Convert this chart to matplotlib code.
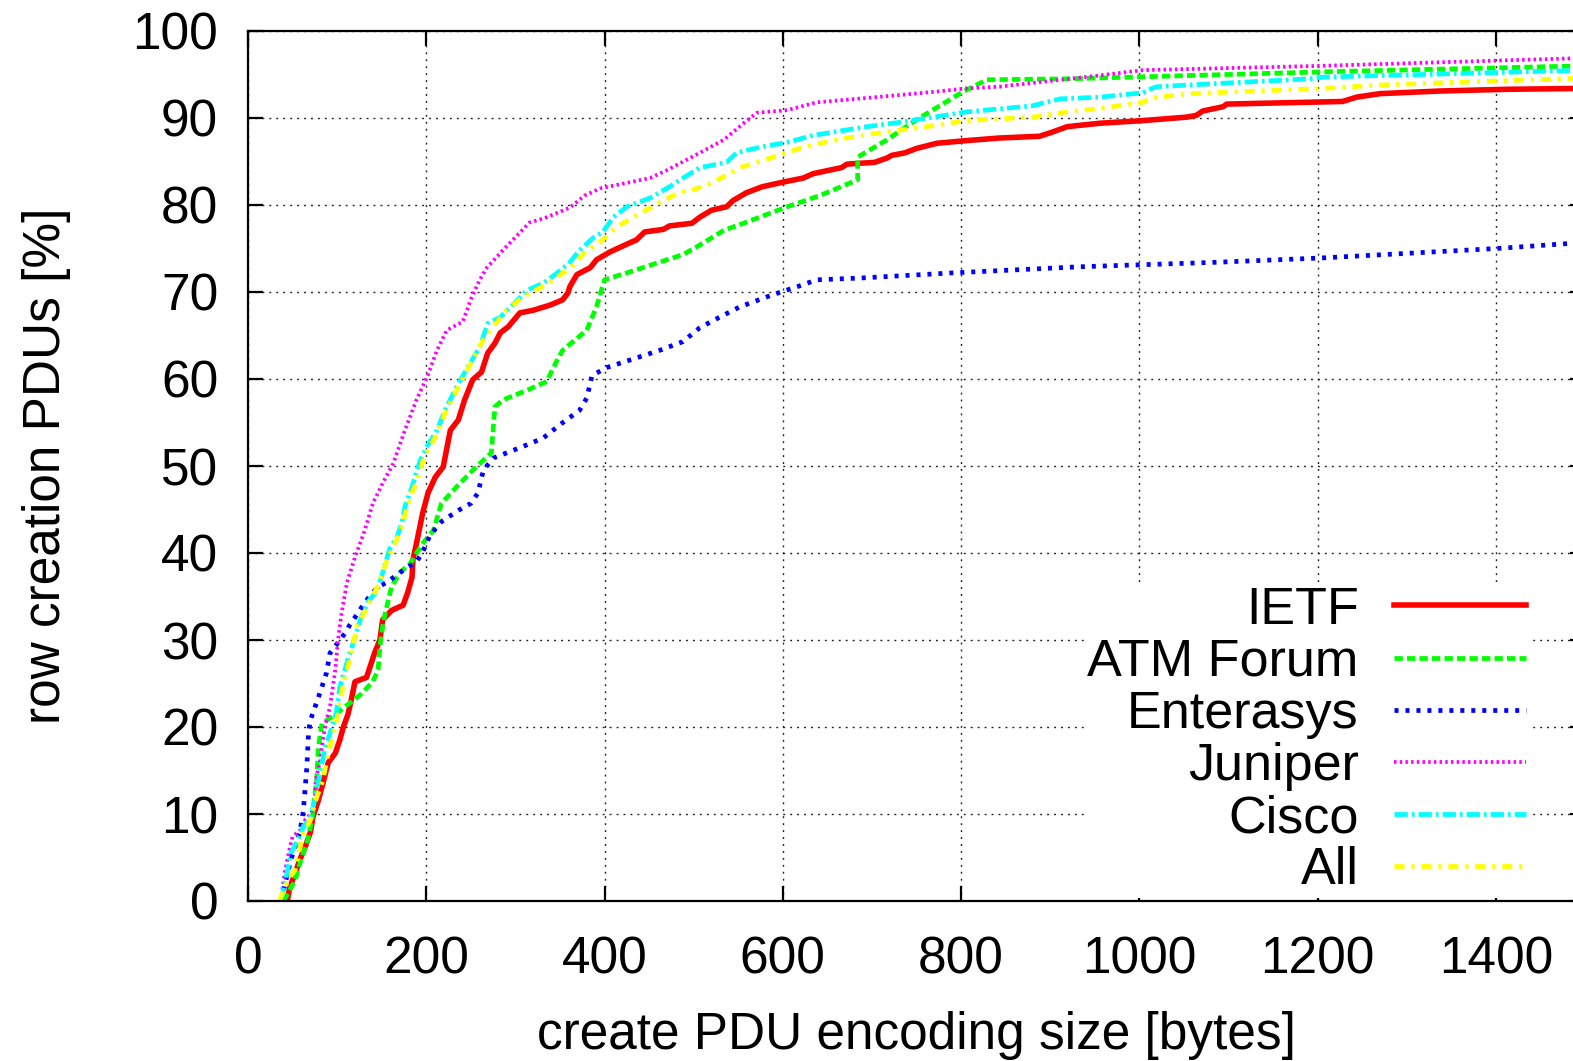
import matplotlib
matplotlib.use("Agg")
import matplotlib.pyplot as plt

# values (x = bytes, y = % of PDUs)
ietf_x = [44, 47, 53, 58, 64, 70, 73, 79, 84, 90, 98, 103, 107, 112, 115, 120, 133, 142, 148, 151,
          161, 174, 179, 184, 185, 189, 196, 202, 210, 219, 227, 236, 243, 252, 262, 269, 277, 283,
          292, 305, 320, 339, 353, 359, 361, 369, 384, 391, 406, 423, 436, 445, 466, 473, 498, 507,
          520, 537, 544, 559, 577, 599, 623, 634, 666, 672, 703, 717, 722, 737, 750, 773, 806, 843,
          888, 903, 919, 937, 956, 1004, 1053, 1064, 1071, 1094, 1098, 1228, 1244, 1270, 1337,
          1412, 1500]
ietf_y = [0, 1.6, 3.2, 4.7, 6.2, 7.9, 9.7, 11.6, 13.5, 15.9, 17.0, 18.5, 20.0, 21.4, 22.7, 25.2,
          25.7, 28.5, 30.0, 32.3, 33.4, 34.0, 35.4, 37.2, 39.2, 41.1, 44.6, 46.9, 48.7, 49.9, 54.1,
          55.3, 57.6, 59.9, 60.8, 63.0, 64.1, 65.3, 66.0, 67.6, 67.9, 68.5, 69.1, 69.9, 70.6, 72.0,
          72.8, 73.7, 74.6, 75.4, 76.0, 76.9, 77.2, 77.6, 77.9, 78.6, 79.4, 79.8, 80.5, 81.4, 82.1,
          82.6, 83.1, 83.6, 84.3, 84.7, 84.9, 85.4, 85.7, 86.0, 86.5, 87.1, 87.4, 87.7, 87.9, 88.4,
          89.0, 89.2, 89.4, 89.7, 90.1, 90.3, 90.8, 91.3, 91.6, 91.9, 92.4, 92.8, 93.1, 93.3, 93.4]

atm_x = [40, 53, 56, 62, 67, 72, 77, 79, 83, 100, 111, 126, 140, 146, 148, 151, 154, 161, 170, 182,
         196, 208, 217, 234, 256, 273, 277, 286, 313, 335, 347, 353, 380, 391, 400, 425, 488, 507,
         534, 556, 605, 642, 684, 684, 717, 750, 802, 829, 919, 956, 1206, 1500]
atm_y = [0, 2.4, 3.6, 5.5, 7.0, 9.5, 13.9, 17.7, 20.4, 21.6, 22.5, 23.7, 25.2, 26.6, 29.2, 31.5,
         33.1, 36.1, 37.7, 38.8, 41.1, 42.6, 45.7, 47.6, 49.9, 51.5, 56.8, 57.6, 58.7, 59.7, 62.2,
         63.3, 65.6, 68.3, 71.4, 72.2, 74.3, 75.4, 77.1, 77.9, 79.8, 81.1, 82.9, 85.5, 87.5, 89.8,
         93.0, 94.4, 94.5, 94.6, 95.3, 96.0]

ent_x = [37, 48, 58, 62, 64, 66, 68, 70, 79, 88, 92, 101, 109, 114, 122, 129, 137, 146, 157, 167,
         178, 189, 196, 204, 217, 236, 250, 258, 264, 275, 305, 331, 352, 372, 380, 386, 402, 462,
         488, 507, 529, 552, 589, 616, 638, 686, 791, 933, 1082, 1202, 1401, 1500]
ent_y = [0, 4.7, 7.8, 10.3, 12.8, 15.4, 19.5, 20.8, 23.4, 26.2, 28.5, 29.7, 30.8, 31.7, 32.9, 34.0,
         35.1, 36.1, 36.7, 37.5, 38.3, 39.0, 40.1, 42.0, 43.6, 44.9, 45.7, 46.9, 49.5, 50.9, 52.1,
         53.2, 54.9, 56.4, 57.8, 60.4, 61.3, 63.3, 64.3, 65.9, 67.1, 68.3, 69.7, 70.6, 71.4, 71.6,
         72.2, 72.9, 73.4, 73.9, 75.0, 75.7]

jun_x = [37, 41, 47, 50, 59, 64, 71, 75, 76, 81, 84, 87, 92, 98, 101, 105, 111, 120, 131, 140,
         151, 163, 176, 189, 202, 212, 223, 241, 251, 260, 268, 286, 316, 333, 361, 378, 395, 451,
         470, 507, 534, 556, 571, 605, 627, 638, 694, 769, 806, 843, 956, 1004, 1206, 1500]
jun_y = [0, 3.2, 6.2, 7.4, 8.2, 9.3, 10.1, 11.6, 13.9, 16.2, 18.5, 20.4, 22.3, 26.6, 30.0, 33.1,
         36.6, 39.5, 42.6, 45.7, 48.0, 50.3, 54.1, 57.6, 60.5, 63.3, 65.6, 66.6, 69.4, 71.4, 72.8,
         74.8, 78.0, 78.5, 79.7, 81.1, 81.9, 83.1, 84.0, 86.0, 87.5, 89.4, 90.6, 90.9, 91.5, 91.8,
         92.3, 93.0, 93.4, 93.6, 94.9, 95.5, 96.0, 96.9]

cis_x = [37, 43, 48, 56, 62, 70, 75, 81, 86, 92, 99, 103, 111, 120, 126, 134, 145, 151, 159, 167,
         173, 176, 184, 193, 201, 212, 221, 236, 247, 260, 269, 283, 295, 313, 331, 347, 361, 372,
         387, 398, 410, 425, 451, 473, 485, 507, 537, 548, 577, 605, 634, 694, 731, 769, 806, 880,
         911, 956, 1004, 1014, 1020, 1094, 1191, 1206, 1500]
cis_y = [0, 2.8, 5.5, 7.0, 8.5, 9.7, 11.6, 14.7, 17.4, 19.3, 21.6, 24.6, 27.4, 30.3, 32.3, 34.3,
         35.7, 37.7, 40.5, 41.8, 43.6, 45.3, 47.6, 50.6, 52.3, 54.1, 56.4, 59.5, 61.4, 63.7, 66.4,
         67.1, 68.3, 70.2, 71.0, 72.2, 73.4, 74.8, 76.2, 76.9, 78.6, 79.8, 80.8, 82.1, 82.9, 84.3,
         84.9, 86.0, 86.7, 87.2, 88.0, 89.0, 89.5, 90.1, 90.7, 91.4, 92.2, 92.4, 92.9, 93.4, 93.6,
         94.0, 94.5, 94.7, 95.5]

all_x = [35, 45, 53, 56, 62, 70, 75, 84, 90, 95, 101, 107, 117, 122, 134, 146, 156, 163, 170, 178,
         185, 189, 196, 204, 210, 219, 234, 252, 264, 275, 290, 308, 328, 347, 365, 380, 387, 398,
         414, 436, 462, 485, 496, 522, 552, 589, 619, 642, 672, 709, 731, 761, 806, 843, 880, 919,
         956, 1004, 1014, 1057, 1206, 1273, 1356, 1500]
all_y = [0, 2.4, 3.6, 5.1, 7.8, 9.3, 11.3, 13.9, 17.0, 18.9, 21.5, 25.0, 28.9, 31.5, 33.8, 36.3,
         39.2, 40.7, 42.2, 45.1, 47.2, 48.0, 50.5, 52.2, 53.3, 55.6, 58.7, 62.2, 64.5, 66.0, 67.9,
         69.4, 70.5, 71.7, 73.1, 74.8, 75.2, 76.0, 77.5, 78.8, 80.3, 81.5, 81.6, 82.6, 84.3, 85.5,
         86.5, 87.1, 87.7, 88.3, 88.6, 89.0, 89.7, 89.9, 90.1, 90.7, 91.1, 91.8, 92.3, 92.8, 93.4,
         93.8, 94.1, 94.6]

plt.rcParams['font.family'] = ['Liberation Sans', 'DejaVu Sans']
plt.rcParams['lines.scale_dashes'] = False

fig = plt.figure(figsize=(15.73, 10.61), dpi=100)
# axes runs past the right edge of the picture, like the cropped original
ax = fig.add_axes([248 / 1573, 160 / 1061, 1337 / 1573, 870 / 1061])

ax.plot(ietf_x, ietf_y, color='#ff0000', lw=4.0, label='IETF')
ax.plot(atm_x, atm_y, color='#00ff00', lw=3.4, dashes=(6, 3), label='ATM Forum')
ax.plot(ent_x, ent_y, color='#0000ff', lw=3.4, dashes=(2.9, 5), label='Enterasys')
ax.plot(jun_x, jun_y, color='#ff00ff', lw=2.7, dashes=(1.8, 2.3), label='Juniper')
ax.plot(cis_x, cis_y, color='#00ffff', lw=3.4, dashes=(9.6, 2.9, 1.9, 2.9), label='Cisco')
ax.plot(all_x, all_y, color='#ffff00', lw=3.4, dashes=(7.2, 5, 2.2, 5), label='All')

ax.set_xlim(0, 1500)
ax.set_ylim(0, 100)
ax.set_xticks(range(0, 1500, 200))
ax.set_yticks(range(0, 101, 10))
ax.grid(True, color='#222222', lw=1.0, dashes=(1.4, 3.6))
ax.set_axisbelow(True)

for s in ax.spines.values():
    s.set_linewidth(1.6)
ax.tick_params(direction='in', length=11, width=1.6, top=True, right=True,
               labelsize=37, pad=25)
ax.tick_params(axis='y', pad=21.5)

ax.set_xlabel('create PDU encoding size [bytes]', fontsize=37, labelpad=19)
ax.set_ylabel('row creation PDUs [%]', fontsize=37, labelpad=44)

leg = ax.legend(loc='upper right', bbox_to_anchor=(1529 / 1573, 1 - 583 / 1061),
                bbox_transform=fig.transFigure, fontsize=37.5, markerfirst=False,
                handlelength=2.55, handletextpad=0.67, labelspacing=0.06,
                borderpad=0.05, borderaxespad=0, fancybox=False, frameon=True)
leg.get_frame().set_facecolor('white')
leg.get_frame().set_edgecolor('none')
leg.get_frame().set_alpha(1)
for t in leg.get_texts():
    t.set_ha('right')

fig.savefig('out.png', dpi=100)
